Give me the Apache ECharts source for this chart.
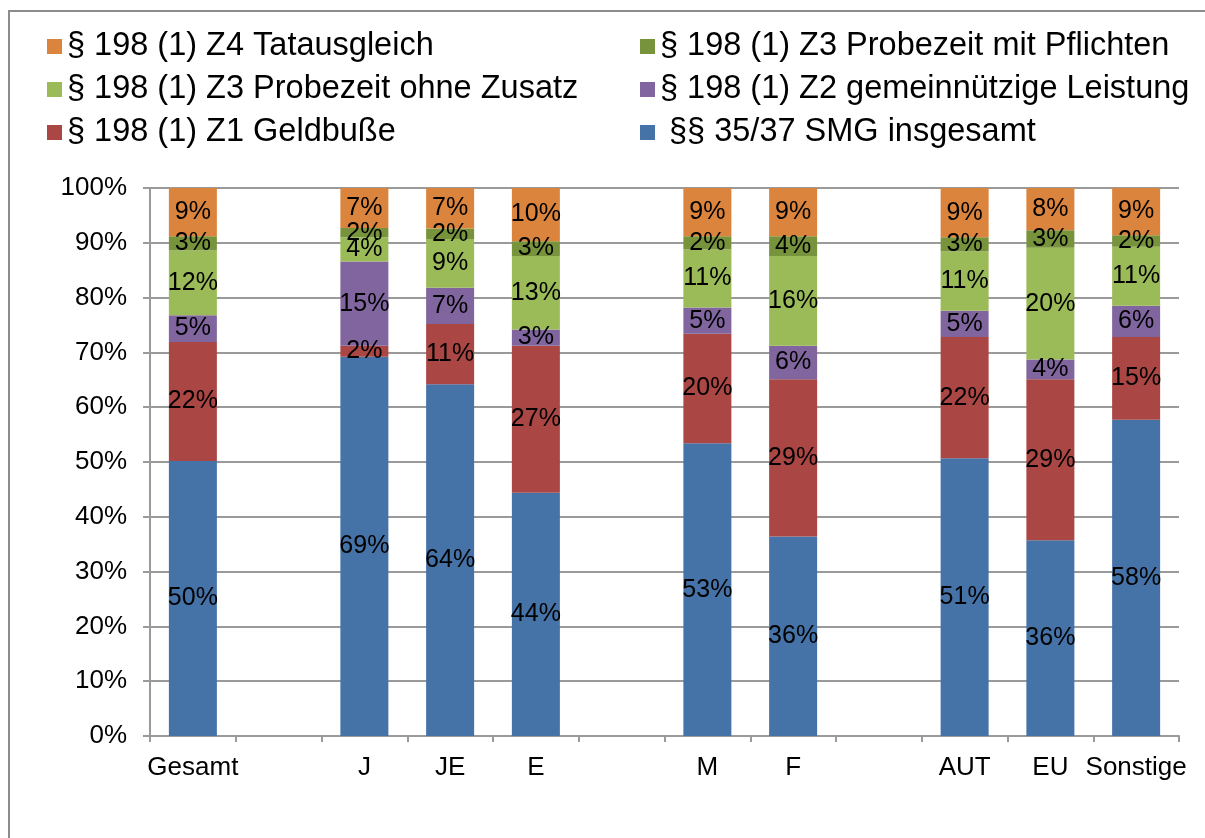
<!DOCTYPE html>
<html lang="de">

<head>
    <meta charset="UTF-8">
    <title>Diversion nach SMG</title>
    <script src="https://cdn.jsdelivr.net/npm/echarts@6/dist/echarts.min.js"></script>
    <style>
        html, body { margin: 0; padding: 0; background: #fff; }
        #main { width: 1205px; height: 838px; }
    </style>
</head>

<body>
    <div id="main"></div>
    <script>
        // Kategorien, leere Einträge = Lücken zwischen den Gruppen
        var categories = ['Gesamt', '', 'J', 'JE', 'E', '', 'M', 'F', '', 'AUT', 'EU', 'Sonstige'];

        // Anteile in %, von unten nach oben gestapelt
        var smg        = [50.2, null, 69.2, 64.2, 44.4, null, 53.4, 36.4, null, 50.7, 35.7, 57.7];
        var geldbusse  = [21.7, null, 2.0, 11.0, 26.8, null, 20.0, 28.7, null, 22.1, 29.4, 15.1];
        var gemeinn    = [4.9, null, 15.4, 6.6, 3.0, null, 4.8, 6.1, null, 4.8, 3.6, 5.7];
        var probeOhne  = [11.8, null, 4.4, 8.9, 13.4, null, 10.6, 16.4, null, 10.8, 20.4, 10.8];
        var probeMit   = [2.6, null, 1.7, 1.9, 2.7, null, 2.4, 3.6, null, 2.6, 3.2, 2.1];
        var tatausgl   = [8.8, null, 7.3, 7.4, 9.7, null, 8.8, 8.8, null, 9.0, 7.7, 8.6];

        var yTicks = ['0%', '10%', '20%', '30%', '40%', '50%', '60%', '70%', '80%', '90%', '100%'];

        var names = [' §§ 35/37 SMG insgesamt', '§ 198 (1) Z1 Geldbuße', '§ 198 (1) Z2 gemeinnützige Leistung',
            '§ 198 (1) Z3 Probezeit ohne Zusatz', '§ 198 (1) Z3 Probezeit mit Pflichten', '§ 198 (1) Z4 Tatausgleich'];
        var colors = ['#4572a7', '#aa4643', '#80659f', '#9bbb59', '#77933c', '#db843d'];
        var values = [smg, geldbusse, gemeinn, probeOhne, probeMit, tatausgl];

        var font = 'Liberation Sans, Arial, sans-serif';
        var gray = '#9a9a9a';

        var series = values.map(function (arr, i) {
            return {
                name: names[i],
                type: 'bar',
                stack: 'total',
                barWidth: 48,
                data: arr,
                itemStyle: { color: colors[i] },
                label: {
                    show: true,
                    position: 'inside',
                    color: '#000',
                    fontSize: 25,
                    fontFamily: font,
                    formatter: function (p) { return Math.round(p.value) + '%'; }
                }
            };
        });

        var myChart = echarts.init(document.getElementById('main'));

        var legendCommon = {
            orient: 'vertical',
            top: 30,
            padding: 0,
            itemWidth: 15,
            itemHeight: 15,
            itemGap: 10,
            icon: 'rect',
            selectedMode: false,
            textStyle: { fontSize: 32.5, fontFamily: font, color: '#000', padding: 0 }
        };

        var option = {
            animation: false,
            backgroundColor: '#fff',
            color: colors,
            legend: [
                Object.assign({ left: 47, data: [names[5], names[3], names[1]] }, legendCommon),
                Object.assign({ left: 640, data: [names[4], names[2], names[0]] }, legendCommon)
            ],
            grid: { left: 150, right: 26, top: 188, bottom: 102 },
            xAxis: {
                type: 'category',
                data: categories,
                axisLine: { lineStyle: { color: gray, width: 2 } },
                axisTick: { show: true, interval: 0, length: 6, lineStyle: { color: gray, width: 2 } },
                axisLabel: { interval: 0, margin: 19, fontSize: 26, fontFamily: font, color: '#000' }
            },
            yAxis: {
                type: 'value',
                min: 0,
                max: 100,
                interval: 10,
                axisLine: { show: true, lineStyle: { color: gray, width: 2 } },
                axisTick: { show: true, inside: false, length: 7, lineStyle: { color: gray, width: 2 } },
                splitLine: { lineStyle: { color: gray, width: 2 } },
                axisLabel: {
                    margin: 23,
                    fontSize: 26,
                    fontFamily: font,
                    color: '#000',
                    formatter: function (v) { return yTicks[Math.round(v / 10)]; }
                }
            },
            graphic: [
                {
                    type: 'polyline',
                    shape: { points: [[9, 838], [9, 11], [1205, 11]] },
                    style: { stroke: '#8c8c8c', lineWidth: 2, fill: null },
                    silent: true
                }
            ],
            series: series
        };

        myChart.setOption(option);
    </script>
</body>

</html>
